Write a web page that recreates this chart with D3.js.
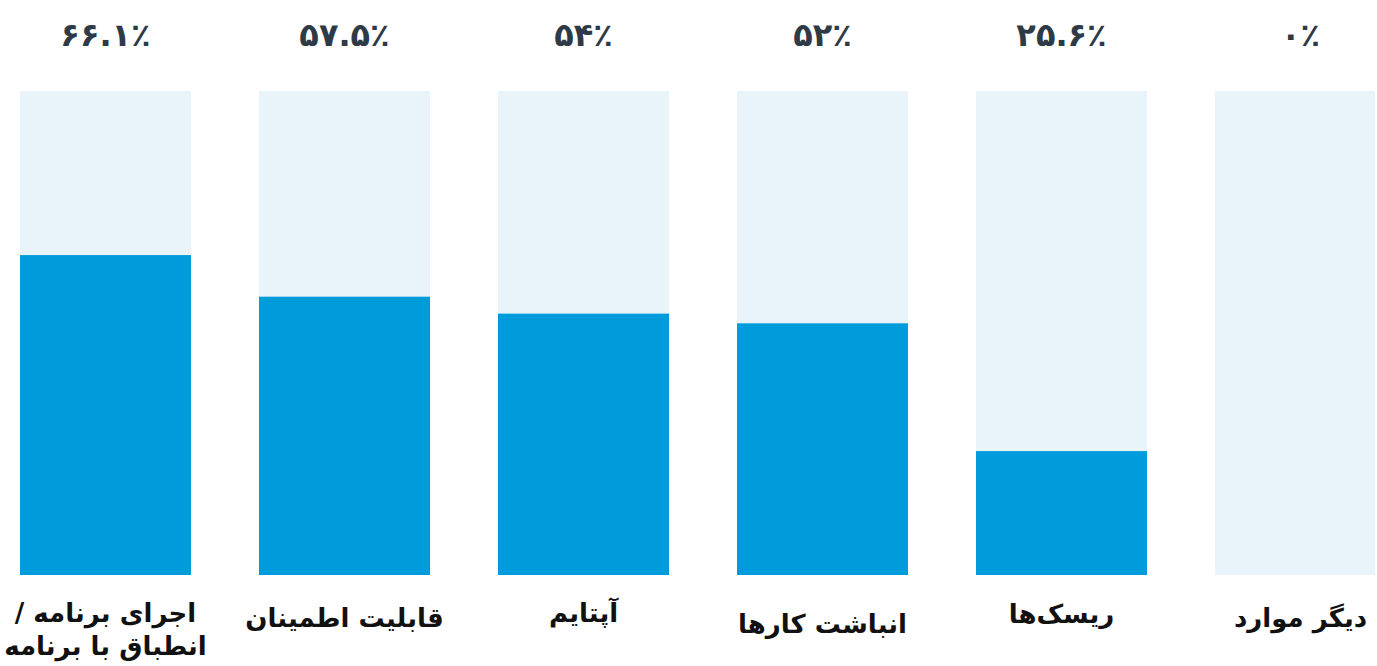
<!DOCTYPE html>
<html lang="fa">
<head>
<meta charset="utf-8">
<script src="https://cdn.jsdelivr.net/npm/d3@7"></script>
<style>
  html, body { margin: 0; padding: 0; background: #fff; overflow: hidden; }
  svg { display: block; }
</style>
</head>
<body>
<svg id="chart" width="1377" height="666"></svg>
<script>
// ---- data ----
const categories = [
  ["اجرای برنامه /", "انطباق با برنامه"],
  ["قابلیت اطمینان"],
  ["آپتایم"],
  ["انباشت کارها"],
  ["ریسک‌ها"],
  ["دیگر موارد"]
];
const values = [66.1, 57.5, 54, 52, 25.6, 0];
const valueLabels = ["۶۶.۱٪", "۵۷.۵٪", "۵۴٪", "۵۲٪", "۲۵.۶٪", "۰٪"];

// ---- layout ----
const W = 1377, H = 666;
const trackTop = 91, trackBottom = 575;
const step = 239, gap = 68;
const labelBaselineShift = [0, 5, 0, 11, 1, 5];

const svg = d3.select("#chart");
svg.append("defs").append("clipPath").attr("id", "clip")
  .append("rect").attr("x", 0).attr("y", 0).attr("width", 1375).attr("height", H);

const x = d3.scaleBand()
  .domain(d3.range(categories.length))
  .range([20, 20 + step * (categories.length - gap / step)])
  .paddingInner(gap / step)
  .paddingOuter(0);

const y = d3.scaleLinear().domain([0, 100]).range([trackBottom, trackTop]);

const g = svg.append("g").attr("clip-path", "url(#clip)");

g.selectAll("rect.track").data(values).join("rect")
  .attr("class", "track")
  .attr("x", (d, i) => x(i))
  .attr("width", x.bandwidth())
  .attr("y", y(100))
  .attr("height", y(0) - y(100))
  .attr("fill", "#e9f4fa");

g.selectAll("rect.bar").data(values).join("rect")
  .attr("class", "bar")
  .attr("x", (d, i) => x(i))
  .attr("width", x.bandwidth())
  .attr("y", d => y(d))
  .attr("height", d => y(0) - y(d))
  .attr("fill", "#009bdb");

svg.selectAll("text.val").data(valueLabels).join("text")
  .attr("class", "val")
  .attr("x", (d, i) => x(i) + x.bandwidth() / 2)
  .attr("y", 46)
  .attr("text-anchor", "middle")
  .attr("direction", "ltr")
  .attr("font-family", "'DejaVu Sans', 'Noto Sans', sans-serif")
  .attr("font-weight", "bold")
  .attr("font-size", 32)
  .attr("fill", "#2e3a46")
  .text(d => d);

const lab = svg.selectAll("text.cat").data(categories).join("text")
  .attr("class", "cat")
  .attr("x", (d, i) => x(i) + x.bandwidth() / 2)
  .attr("y", (d, i) => 622 + labelBaselineShift[i])
  .attr("text-anchor", "middle")
  .attr("direction", "rtl")
  .attr("font-family", "'DejaVu Sans', 'Noto Sans', sans-serif")
  .attr("font-weight", "bold")
  .attr("font-size", 26)
  .attr("fill", "#111");

lab.selectAll("tspan").data(d => d).join("tspan")
  .attr("x", function() { return d3.select(this.parentNode).attr("x"); })
  .attr("dy", (d, j) => j === 0 ? 0 : 33)
  .text(d => d);
</script>
</body>
</html>
